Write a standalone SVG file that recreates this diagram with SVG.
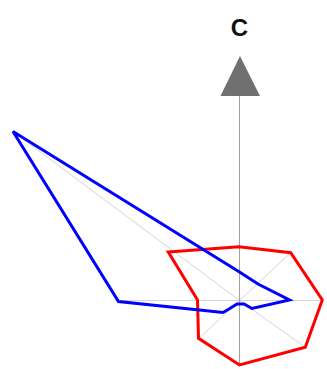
<svg xmlns="http://www.w3.org/2000/svg" width="327" height="369" viewBox="0 0 327 369">
<style>
.axis{stroke:#d4d4d4;stroke-width:1;fill:none}
.vaxis{stroke:#a0a0a0;stroke-width:1;fill:none}
.series{fill:none;stroke-width:3;stroke-linejoin:miter}
.lbl{font-family:"Liberation Sans",Arial,sans-serif;font-weight:bold;font-size:24px;fill:#111}
</style>
<rect width="327" height="369" fill="#ffffff"/>
<g id="axes">
<line class="axis" x1="118.5" y1="300.5" x2="322.5" y2="300.5"/>
<line class="axis" x1="13" y1="131.5" x2="239.5" y2="300.5"/>
<line class="axis" x1="239.5" y1="300.5" x2="305.5" y2="347.3"/>
<line class="axis" x1="290.7" y1="252.7" x2="239.5" y2="300.5"/>
<line class="axis" x1="239.5" y1="300.5" x2="199" y2="338.3"/>
<line class="vaxis" x1="239.5" y1="95" x2="239.5" y2="365"/>
</g>
<g id="c-axis-label">
<polygon points="240,56 220.5,96 260,96" fill="#707070"/>
<text class="lbl" x="239.5" y="36" text-anchor="middle">C</text>
</g>
<g id="series-red">
<polygon class="series" stroke="#ff0000" points="168.3,252 239,246.7 290.7,252.7 322.3,300 305.3,347.3 239.5,365 198.5,338.3 197.5,300"/>
</g>
<g id="series-blue">
<polygon class="series" stroke="#0000ff" points="13,131.5 239.5,272 258,284 289.5,300 252,308.5 244,304 237,304 229,309 223,312.5 118.5,301.5"/>
</g>
</svg>
